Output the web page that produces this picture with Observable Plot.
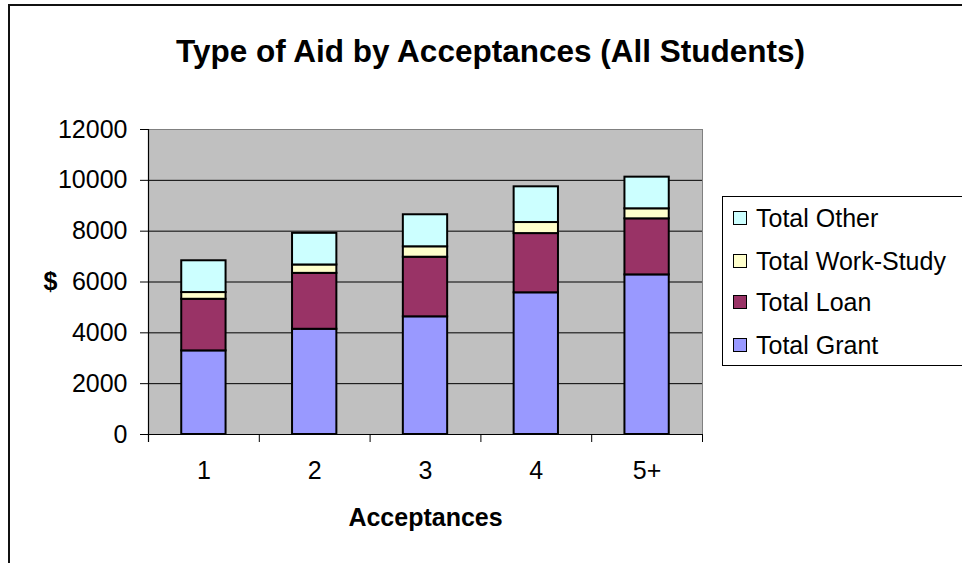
<!DOCTYPE html>
<html>
<head>
<meta charset="utf-8">
<script src="https://cdn.jsdelivr.net/npm/d3@7"></script>
<script src="https://cdn.jsdelivr.net/npm/@observablehq/plot@0.6"></script>
<style>
  html, body { margin: 0; padding: 0; background: #fff; overflow: hidden; }
  #wrap { position: relative; width: 962px; height: 563px; font-family: "Liberation Sans", Arial, sans-serif; }
  #border { position: absolute; left: 8px; top: 4px; width: 2000px; height: 2000px; border-top: 2px solid #111; border-left: 2px solid #111; }
  #chart { position: absolute; left: 0; top: 0; }
  #legend { position: absolute; left: 722px; top: 196px; width: 260px; height: 170px; border: 1.5px solid #000; background: #fff; box-sizing: border-box; }
  .row { position: absolute; left: 10px; height: 30px; display: flex; align-items: center; font-size: 25px; color: #000; white-space: nowrap; }
  .sw { width: 12px; height: 12px; border: 1px solid #000; margin-right: 9px; flex: none; }
</style>
</head>
<body>
<div id="wrap">
  <div id="border"></div>
  <div id="chart"></div>
  <div id="legend"></div>
</div>
<script>
const categories = ["1", "2", "3", "4", "5+"];
const series = ["Total Grant", "Total Loan", "Total Work-Study", "Total Other"];
const totalGrant = [3290, 4140, 4630, 5575, 6280];
const totalLoan = [2030, 2200, 2345, 2330, 2205];
const totalWorkStudy = [265, 330, 410, 435, 395];
const totalOther = [1250, 1245, 1260, 1405, 1245];
const yTicks = [0, 2000, 4000, 6000, 8000, 10000, 12000];
const colors = ["#9999FF", "#993366", "#FFFFCC", "#CCFFFF"];
const title = "Type of Aid by Acceptances (All Students)";
const xLabel = "Acceptances";
const yLabel = "$";

const values = [totalGrant, totalLoan, totalWorkStudy, totalOther];
const data = series.flatMap((s, i) => categories.map((c, j) => ({cat: c, series: s, value: values[i][j]})));

const W = 962, H = 563, mL = 148, mR = 260, mT = 129, mB = 129;
const step = (W - mL - mR) / categories.length;

const chart = Plot.plot({
  width: W, height: H,
  marginLeft: mL, marginRight: mR, marginTop: mT, marginBottom: mB,
  style: {fontFamily: "'Liberation Sans', Arial, sans-serif", background: "transparent", overflow: "visible", color: "#000"},
  x: {type: "band", domain: categories, paddingInner: 0.6, paddingOuter: 0.3, round: false, axis: null},
  y: {domain: [0, 12000], axis: null},
  color: {domain: series, range: colors},
  marks: [
    Plot.frame({fill: "#C0C0C0", stroke: "#808080"}),
    Plot.ruleY(yTicks.filter(t => t > 0 && t < 12000), {stroke: "#000", strokeWidth: 1}),
    Plot.barY(data, {x: "cat", y: "value", fill: "series", stroke: "#000", strokeWidth: 2}),
    Plot.ruleY([0], {stroke: "#000", strokeWidth: 1.2}),
    Plot.ruleX([categories[0]], {x: d => d, dx: -step / 2, y1: 12000, y2: 0, insetBottom: -8, stroke: "#000", strokeWidth: 1.2}),
    Plot.ruleX(categories.slice(1), {x: d => d, dx: -step / 2, y1: 0, y2: 0, insetBottom: -8, stroke: "#000"}),
    Plot.ruleX([categories[categories.length - 1]], {x: d => d, dx: step / 2, y1: 0, y2: 0, insetBottom: -8, stroke: "#000"}),
    Plot.axisY({ticks: yTicks, tickSize: 8, tickPadding: 13, fontSize: 25, label: null, tickFormat: d => String(d), stroke: "#000"}),
    Plot.text(categories, {x: d => d, frameAnchor: "bottom", dy: 44, fontSize: 25, fill: "#000"}),
    Plot.text([xLabel], {frameAnchor: "bottom", dy: 91, fontSize: 25, fontWeight: "bold", fill: "#000"}),
    Plot.text([yLabel], {frameAnchor: "left", dx: -105, fontSize: 25, fontWeight: "bold", fill: "#000"}),
    Plot.text([title], {frameAnchor: "top", dx: 65, dy: -90, fontSize: 31.5, fontWeight: "bold", fill: "#000"})
  ]
});
document.getElementById("chart").appendChild(chart);

const legend = document.getElementById("legend");
const rowTops = [6, 49, 90, 133];
series.slice().reverse().forEach((s, k) => {
  const i = series.indexOf(s);
  const row = document.createElement("div");
  row.className = "row";
  row.style.top = rowTops[k] + "px";
  const sw = document.createElement("span");
  sw.className = "sw";
  sw.style.background = colors[i];
  row.appendChild(sw);
  row.appendChild(document.createTextNode(s));
  legend.appendChild(row);
});
</script>
</body>
</html>
